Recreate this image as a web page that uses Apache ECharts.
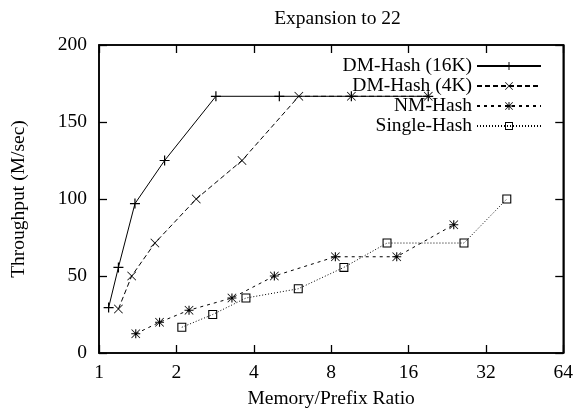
<!DOCTYPE html>
<html>
<head>
<meta charset="utf-8">
<script src="https://cdn.jsdelivr.net/npm/echarts@6/dist/echarts.min.js"></script>
<style>html,body{margin:0;padding:0;background:#fff;}#chart{width:576px;height:414px;}</style>
</head>
<body>
<div id="chart"></div>
<script>
const titleText = 'Expansion to 22';
const xAxisName = 'Memory/Prefix Ratio';
const yAxisName = 'Throughput (M/sec)';
const seriesNames = ['DM-Hash (16K)', 'DM-Hash (4K)', 'NM-Hash', 'Single-Hash'];
const xTickLabels = ['1', '2', '4', '8', '16', '32', '64'];

const dm16kX = [1.09, 1.19, 1.38, 1.80, 2.85, 5.03, 9.59, 19.1];
const dm16kY = [29.5, 55.6, 97, 125, 166.7, 166.7, 166.7, 166.7];
const dm4kX = [1.19, 1.34, 1.65, 2.39, 3.60, 5.99, 9.59, 19.1];
const dm4kY = [28.6, 50, 71.4, 100, 125, 166.7, 166.7, 166.7];
const nmX = [1.39, 1.72, 2.24, 3.29, 4.81, 8.31, 14.4, 24.0];
const nmY = [12.5, 20, 27.8, 35.7, 50, 62.5, 62.5, 83.3];
const singleX = [2.10, 2.77, 3.73, 5.96, 8.97, 13.2, 26.3, 38.6];
const singleY = [16.7, 25, 35.7, 41.7, 55.6, 71.4, 71.4, 100];

const FONT = 'Liberation Serif';
const FS = 19.5;

const SYM_PLUS = 'path://M0,4.4H10V5.6H0Z M4.4,0H5.6V10H4.4Z';
const SYM_CROSS = 'path://M0.6,0L10,9.4L9.4,10L0,0.6Z M9.4,0L10,0.6L0.6,10L0,9.4Z';
const SYM_STAR = 'path://M0,4.4H10V5.6H0Z M4.4,0H5.6V10H4.4Z M0.6,0L10,9.4L9.4,10L0,0.6Z M9.4,0L10,0.6L0.6,10L0,9.4Z';
const SYM_SQUARE = 'path://M0,0H10V10H0Z M1.2,1.2V8.8H8.8V1.2Z';

function pairs(xs, ys) { return xs.map((x, i) => [x, ys[i]]); }

function mkSeries(name, xs, ys, symbol, size, dash) {
  return {
    name: name,
    type: 'line',
    xAxisIndex: 0,
    yAxisIndex: 0,
    data: pairs(xs, ys),
    symbol: symbol,
    symbolSize: size,
    showAllSymbol: true,
    itemStyle: { color: '#000' },
    lineStyle: { color: '#000', width: 1, type: dash },
    emphasis: { disabled: true },
    animation: false
  };
}

const chart = echarts.init(document.getElementById('chart'), null, { renderer: 'canvas' });

function axisLineStyle() { return { show: true, onZero: false, lineStyle: { color: '#000', width: 1.5 } }; }
function tickStyle() { return { show: true, inside: true, length: 8, lineStyle: { color: '#000', width: 1.3 } }; }

function xBase() {
  return {
    type: 'log', logBase: 2, min: 1, max: 64, splitNumber: 6,
    splitLine: { show: false }, minorTick: { show: false },
    axisLine: axisLineStyle(), axisTick: tickStyle()
  };
}
function yBase() {
  return {
    type: 'value', min: 0, max: 200, interval: 50,
    splitLine: { show: false },
    axisLine: axisLineStyle(), axisTick: tickStyle()
  };
}

chart.setOption({
  backgroundColor: '#fff',
  animation: false,
  title: {
    text: titleText,
    left: 332.5, top: 4, textAlign: 'center',
    textStyle: { fontFamily: FONT, fontSize: FS, fontWeight: 'normal', color: '#000' }
  },
  grid: { left: 99, right: 10, top: 45, bottom: 60.5, containLabel: false,
          show: true, borderColor: '#000', borderWidth: 1.5, backgroundColor: 'transparent' },
  legend: {
    orient: 'vertical', right: 29, top: 51, align: 'right',
    itemWidth: 64, itemHeight: 10, itemGap: 0,
    data: seriesNames,
    textStyle: { fontFamily: FONT, fontSize: FS, color: '#000' },
    selectedMode: false
  },
  xAxis: [
    Object.assign(xBase(), {
      position: 'bottom',
      name: xAxisName, nameLocation: 'middle', nameGap: 36,
      nameTextStyle: { fontFamily: FONT, fontSize: FS, color: '#000' },
      axisLabel: {
        show: true, margin: 10, fontFamily: FONT, fontSize: FS, color: '#000',
        formatter: v => xTickLabels[Math.round(Math.log2(v))]
      }
    }),
    Object.assign(xBase(), { position: 'top', axisLabel: { show: false } })
  ],
  yAxis: [
    Object.assign(yBase(), {
      position: 'left',
      name: yAxisName, nameLocation: 'middle', nameGap: 70, nameRotate: 90,
      nameTextStyle: { fontFamily: FONT, fontSize: FS, color: '#000' },
      axisLabel: { show: true, margin: 12, fontFamily: FONT, fontSize: FS, color: '#000' }
    }),
    Object.assign(yBase(), { position: 'right', axisLabel: { show: false } })
  ],
  series: [
    mkSeries(seriesNames[0], dm16kX, dm16kY, SYM_PLUS, 10, 'solid'),
    mkSeries(seriesNames[1], dm4kX, dm4kY, SYM_CROSS, 9, [5, 3]),
    mkSeries(seriesNames[2], nmX, nmY, SYM_STAR, 9, [3, 4]),
    mkSeries(seriesNames[3], singleX, singleY, SYM_SQUARE, 9, [1, 2])
  ]
});
</script>
</body>
</html>
